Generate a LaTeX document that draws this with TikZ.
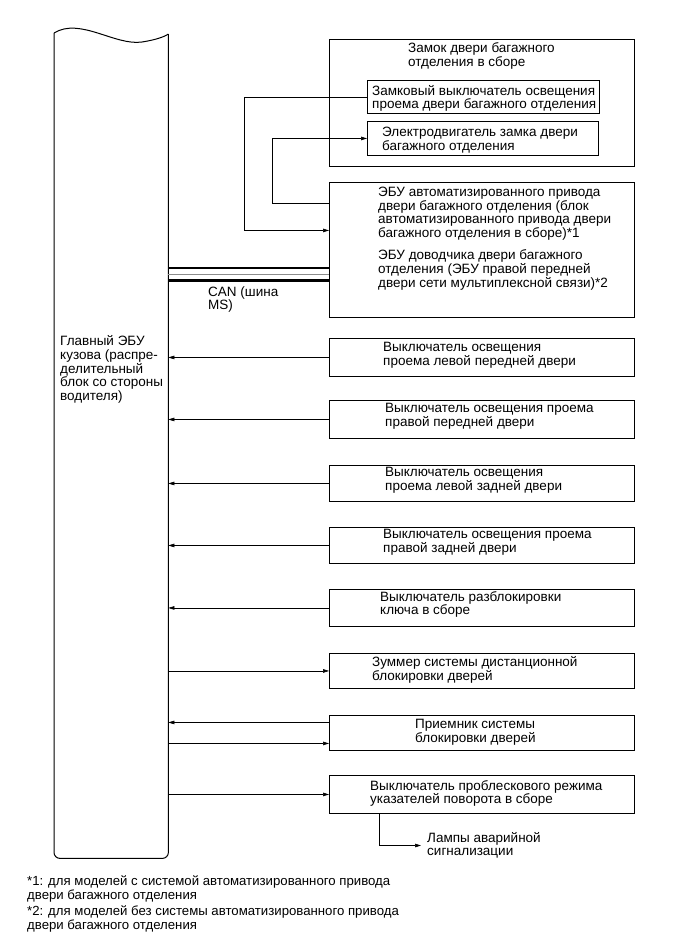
\documentclass[tikz,border=0pt]{standalone}
\usepackage{fontspec}
\setmainfont{Liberation Sans}
\usetikzlibrary{arrows.meta}
\begin{document}
\begin{tikzpicture}[x=1pt,y=-1pt,
  box/.style={draw, line width=0.9pt, anchor=north west, inner sep=0pt, minimum width=305pt, minimum height=#1},
  ibox/.style={draw, line width=0.9pt, anchor=north west, inner sep=0pt},
  txt/.style={anchor=west, inner sep=0pt, align=left, font=\fontsize{13.5}{13.6}\selectfont},
  arr/.style={line width=0.6pt, -{Triangle[length=6pt,width=3.6pt]}},
  canthick/.style={line width=2.2pt},
  canthin/.style={line width=0.7pt, black!45}]
\useasboundingbox (0,0) rectangle (689,951);
% main body ECU
\node[anchor=north west, inner sep=0pt, minimum width=114pt, minimum height=825pt] (ecu) at (54,33) {};
\draw[line width=1pt, rounded corners=6pt] (ecu.north west) -- (ecu.south west) -- (ecu.south east) -- ([yshift=-1pt]ecu.north east);
\draw[line width=1pt] (ecu.north west) .. controls (80,17) and (115,46) .. (142,42) .. controls (155,40) and (164,37) .. ([yshift=-1pt]ecu.north east);
\node[txt] (ecut) at (60,369.5) {Главный ЭБУ\\кузова (распре-\\делительный\\блок со стороны\\водителя)};
% lock assembly
\node[box=127pt] (lk) at (329,39) {};
\node[txt] (lkt) at (408,56) {Замок двери багажного\\отделения в сборе};
\node[ibox, minimum width=232pt, minimum height=33pt] (k1) at (367,80) {};
\node[txt] (k1t) at (372,98.5) {Замковый выключатель освещения\\проема двери багажного отделения};
\node[ibox, minimum width=231pt, minimum height=34pt] (k2) at (367,121) {};
\node[txt] (k2t) at (382,140) {Электродвигатель замка двери\\багажного отделения};
% power door ECU
\node[box=135pt] (pe) at (329,182) {};
\node[txt] (pet) at (378,238.5) {ЭБУ автоматизированного привода\\двери багажного отделения (блок\\автоматизированного привода двери\\багажного отделения в сборе)*1\\[9pt]ЭБУ доводчика двери багажного\\отделения (ЭБУ правой передней\\двери сети мультиплексной связи)*2};
\coordinate (pa) at ([yshift=19.5pt]pe.west);
\coordinate (pb) at ([yshift=46.5pt]pe.west);
\draw[arr] (k1.west) -- ++(-123,0) |- (pa);
\draw[arr] (pb) -- ++(-57,0) |- (k2.west);
% CAN
\coordinate (c1) at ([yshift=-18pt]pe.west);
\coordinate (c2) at ([yshift=-24pt]pe.west);
\coordinate (c3) at ([yshift=-30.5pt]pe.west);
\draw[canthick] (c1 -| ecu.east) -- (c1);
\draw[canthin] (c2 -| ecu.east) -- (c2);
\draw[canthick] (c3 -| ecu.east) -- (c3);
\node[txt] (cant) at (208,299.5) {CAN (шина\\MS)};
% right boxes
\node[box=38pt] (b1) at (329,338) {};
\node[txt] (b1t) at (383,355) {Выключатель освещения\\проема левой передней двери};
\node[box=38pt] (b2) at (329,400) {};
\node[txt] (b2t) at (385,416.5) {Выключатель освещения проема\\правой передней двери};
\node[box=36pt] (b3) at (329,465) {};
\node[txt] (b3t) at (385,480.5) {Выключатель освещения\\проема левой задней двери};
\node[box=36pt] (b4) at (329,527) {};
\node[txt] (b4t) at (383,542.5) {Выключатель освещения проема\\правой задней двери};
\node[box=37pt] (b5) at (329,589) {};
\node[txt] (b5t) at (380,604.5) {Выключатель разблокировки\\ключа в сборе};
\node[box=35pt] (b6) at (329,653) {};
\node[txt] (b6t) at (372,670) {Зуммер системы дистанционной\\блокировки дверей};
\node[box=35pt] (b7) at (329,715) {};
\node[txt] (b7t) at (415,732) {Приемник системы\\блокировки дверей};
\node[box=38pt] (b8) at (329,775) {};
\node[txt] (b8t) at (370,793.5) {Выключатель проблескового режима\\указателей поворота в сборе};
\node[txt] (lamp) at (427,845.5) {Лампы аварийной\\сигнализации};
% connectors
\foreach \b in {b1,b2,b3,b4,b5} \draw[arr] (\b.west) -- (\b.west -| ecu.east);
\draw[arr] (b6.west -| ecu.east) -- (b6.west);
\coordinate (r7a) at ([yshift=10.5pt]b7.west);
\coordinate (r7b) at ([yshift=-10.5pt]b7.west);
\draw[arr] (r7a) -- (r7a -| ecu.east);
\draw[arr] (r7b -| ecu.east) -- (r7b);
\draw[arr] (b8.west -| ecu.east) -- (b8.west);
\coordinate (l0) at ([xshift=50pt]b8.south west);
\draw[arr, shorten >=6pt] (l0) |- (lamp.west);
% footnotes
\node[txt, font=\fontsize{13.2}{12.3}\selectfont] (f1) at (27,889) {*1: для моделей с системой автоматизированного привода\\двери багажного отделения};
\node[txt, font=\fontsize{13.2}{12.3}\selectfont] (f2) at (27,919) {*2: для моделей без системы автоматизированного привода\\двери багажного отделения};
\end{tikzpicture}
\end{document}
